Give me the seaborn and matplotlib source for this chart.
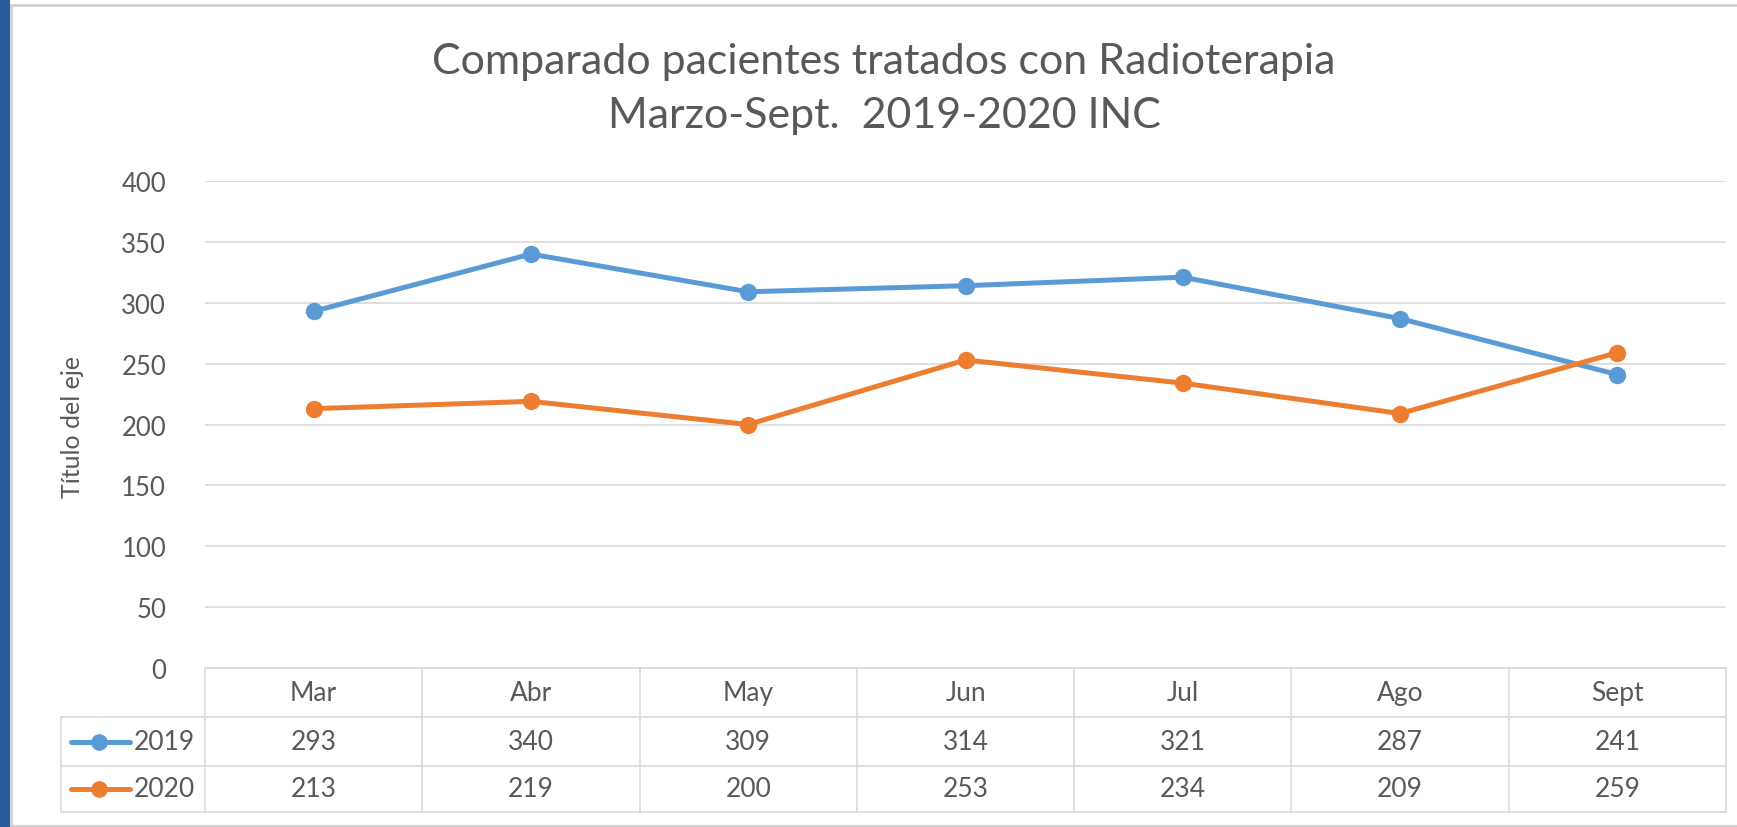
import numpy as np
import pandas as pd
import seaborn as sns
import matplotlib.pyplot as plt
from matplotlib.transforms import blended_transform_factory
from matplotlib.lines import Line2D
from matplotlib.patches import Rectangle

months = ['Mar', 'Abr', 'May', 'Jun', 'Jul', 'Ago', 'Sept']
years = ['2019', '2020']
vals_2019 = [293, 340, 309, 314, 321, 287, 241]
vals_2020 = [213, 219, 200, 253, 234, 209, 259]
colors = ['#5B9BD5', '#ED7D31']
title = 'Comparado pacientes tratados con Radioterapia\nMarzo-Sept.  2019-2020 INC'
y_title = 'Título del eje'

sns.set_theme(style='white')
plt.rcParams['font.family'] = ['Lato', 'DejaVu Sans']
text_col = '#595959'
grid_col = '#D9D9D9'

W, H = 1737, 828
fig = plt.figure(figsize=(W / 100, H / 100), dpi=100)

def fx(px):
    return px / W

def fy(py):
    return 1 - py / H

# plot area in pixels
left, right, top, bottom = 205, 1726, 182, 669
ax = fig.add_axes([fx(left), fy(bottom), fx(right - left), fy(top) - fy(bottom)])

df = pd.DataFrame({
    'mes': months * 2,
    'valor': vals_2019 + vals_2020,
    'anio': [years[0]] * len(months) + [years[1]] * len(months),
})

sns.lineplot(data=df, x='mes', y='valor', hue='anio', palette=colors,
             marker='o', markersize=12.5, markeredgewidth=0, linewidth=3.6,
             sort=False, legend=False, ax=ax)

ax.set_xlim(-0.5, len(months) - 0.5)
ax.set_ylim(0, 400)
ax.set_yticks(range(0, 401, 50))
ax.yaxis.grid(True, color=grid_col, linewidth=1.2)
ax.set_xticks([])
ax.set_xlabel('')
ax.set_ylabel('')
for s in ax.spines.values():
    s.set_visible(False)
ax.tick_params(axis='y', length=0, pad=28, labelsize=18.5, labelcolor=text_col)
ax.set_axisbelow(True)

fig.text(fx(72), fy(427), y_title, rotation=90, ha='center', va='center',
         fontsize=18, color=text_col)
fig.text(fx(884), fy(89), title, ha='center', va='center', fontsize=31,
         color=text_col, linespacing=1.5)

# data table below the plot
tr = blended_transform_factory(ax.transData, fig.transFigure)
row_y = [669, 718, 767, 813]
n = len(months)
lw = 1.2
for py in row_y:
    x0 = fx(205) if py == row_y[0] else fx(61)
    fig.add_artist(Line2D([x0, fx(1726)], [fy(py), fy(py)], color=grid_col, lw=lw))
for i in range(n + 1):
    xb = -0.5 + i
    fig.add_artist(Line2D([xb, xb], [fy(row_y[0]), fy(row_y[-1])], transform=tr,
                          color=grid_col, lw=lw))
fig.add_artist(Line2D([fx(61), fx(61)], [fy(row_y[1]), fy(row_y[-1])], color=grid_col, lw=lw))

cell_fs = 19
for i, m in enumerate(months):
    fig.text(i, fy((row_y[0] + row_y[1]) / 2), m, transform=tr, ha='center', va='center',
             fontsize=cell_fs, color=text_col)
for r, (yr, vals, c) in enumerate(zip(years, [vals_2019, vals_2020], colors)):
    yc = fy((row_y[r + 1] + row_y[r + 2]) / 2)
    for i, v in enumerate(vals):
        fig.text(i, yc, str(v), transform=tr, ha='center', va='center',
                 fontsize=cell_fs, color=text_col)
    fig.add_artist(Line2D([fx(71), fx(130)], [yc, yc], color=c, lw=3.6,
                          solid_capstyle='round'))
    fig.add_artist(Line2D([fx(99)], [yc], color=c, marker='o', markersize=12,
                          markeredgewidth=0))
    fig.text(fx(134), yc, yr, ha='left', va='center', fontsize=cell_fs, color=text_col)

# window frame: blue bar on the left, thin grey border
fig.add_artist(Rectangle((0, 0), fx(10), 1, transform=fig.transFigure,
                         color='#2A5D9C', lw=0))
fig.add_artist(Line2D([fx(11), fx(11)], [0, fy(6)], color='#D0D0D0', lw=2))
fig.add_artist(Line2D([fx(11), 1], [fy(6), fy(6)], color='#D0D0D0', lw=2))
fig.add_artist(Line2D([fx(11), 1], [fy(827), fy(827)], color='#D0D0D0', lw=1.5))

fig.savefig('out.png', dpi=100, facecolor='white')
